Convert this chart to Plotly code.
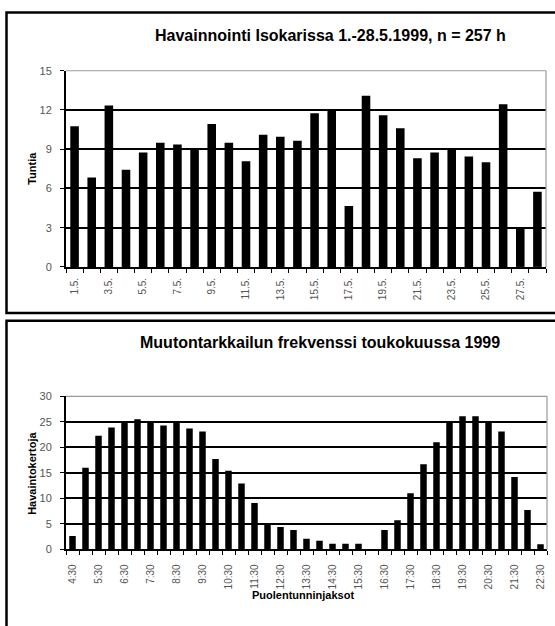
import plotly.graph_objects as go

# ---------------- data ----------------
days = ["1.5.", "2.5.", "3.5.", "4.5.", "5.5.", "6.5.", "7.5.", "8.5.", "9.5.", "10.5.",
        "11.5.", "12.5.", "13.5.", "14.5.", "15.5.", "16.5.", "17.5.", "18.5.", "19.5.", "20.5.",
        "21.5.", "22.5.", "23.5.", "24.5.", "25.5.", "26.5.", "27.5.", "28.5."]
hours = [10.75, 6.83, 12.35, 7.43, 8.75, 9.5, 9.35, 8.93, 10.93, 9.5,
         8.08, 10.1, 9.95, 9.65, 11.75, 12.05, 4.65, 13.08, 11.6, 10.6,
         8.3, 8.75, 9.05, 8.45, 8.0, 12.43, 3.0, 5.75]

periods = ["4:30", "5:00", "5:30", "6:00", "6:30", "7:00", "7:30", "8:00", "8:30", "9:00",
           "9:30", "10:00", "10:30", "11:00", "11:30", "12:00", "12:30", "13:00", "13:30", "14:00",
           "14:30", "15:00", "15:30", "16:00", "16:30", "17:00", "17:30", "18:00", "18:30", "19:00",
           "19:30", "20:00", "20:30", "21:00", "21:30", "22:00", "22:30"]
counts = [2.6, 16.0, 22.3, 23.9, 25.0, 25.5, 25.0, 24.3, 25.0, 23.7,
          23.1, 17.7, 15.4, 12.9, 9.1, 5.0, 4.4, 3.8, 2.1, 1.7,
          1.1, 1.1, 1.1, 0.0, 3.8, 5.7, 11.0, 16.7, 21.0, 25.0,
          26.1, 26.1, 25.0, 23.1, 14.2, 7.7, 1.0]

top_yticks = [0, 3, 6, 9, 12, 15]
bottom_yticks = [0, 5, 10, 15, 20, 25, 30]

title_top = "Havainnointi Isokarissa 1.-28.5.1999, n = 257 h"
title_bottom = "Muutontarkkailun frekvenssi toukokuussa 1999"
ytitle_top = "Tuntia"
ytitle_bottom = "Havaintokertoja"
xtitle_bottom = "Puolentunninjaksot"

# ---------------- figure ----------------
W, H = 555, 626
FONT = "Liberation Sans, Arial, sans-serif"
px = lambda v: v / W
py = lambda v: 1 - v / H

x_top = list(range(len(days)))
x_bot = list(range(len(periods)))

fig = go.Figure()
fig.add_trace(go.Bar(x=x_top, y=hours, marker=dict(color="black", line=dict(width=0)),
                     xaxis="x", yaxis="y", hoverinfo="skip"))
fig.add_trace(go.Bar(x=x_bot, y=counts, marker=dict(color="black", line=dict(width=0)),
                     xaxis="x2", yaxis="y2", hoverinfo="skip"))

tickfont = dict(family=FONT, size=10, color="#555555")
ytickfont = dict(family=FONT, size=11, color="#555555")

def xaxis_cfg(n, labels, domain, anchor, standoff):
    return dict(
        domain=domain, anchor=anchor, range=[-0.5, n - 0.5],
        tickmode="array", tickvals=list(range(0, n, 2)), ticktext=labels[::2],
        ticks="", tickangle=-90, tickfont=tickfont, ticklabelstandoff=standoff,
        showline=True, linecolor="black", linewidth=2,
        showgrid=False, zeroline=False, fixedrange=True,
        minor=dict(tickmode="array", tickvals=[i - 0.5 for i in range(n + 1)],
                   ticks="outside", ticklen=4, tickcolor="black", tickwidth=1, showgrid=False),
    )

def yaxis_cfg(ticks, domain, anchor):
    return dict(
        domain=domain, anchor=anchor, range=[ticks[0], ticks[-1]],
        tickmode="array", tickvals=ticks, ticks="outside", ticklen=4,
        tickcolor="black", tickwidth=1, tickfont=ytickfont, ticklabelstandoff=6,
        showline=True, linecolor="black", linewidth=2,
        showgrid=True, gridcolor="black", gridwidth=2, zeroline=False, fixedrange=True,
    )

fig.update_layout(
    width=W, height=H,
    margin=dict(l=0, r=0, t=0, b=0),
    paper_bgcolor="white", plot_bgcolor="white",
    showlegend=False, bargap=0.5,
    xaxis=xaxis_cfg(len(days), days, [px(66), px(546)], "y", 5),
    yaxis=yaxis_cfg(top_yticks, [py(266), py(66)], "x"),
    xaxis2=xaxis_cfg(len(periods), periods, [px(66), px(547)], "y2", 9),
    yaxis2=yaxis_cfg(bottom_yticks, [py(554), py(398)], "x2"),
)

shapes = []
# panel frames
shapes.append(dict(type="rect", xref="paper", yref="paper", x0=px(6.5), x1=1.05,
                   y0=py(313), y1=py(6.5), line=dict(color="black", width=2.5), layer="above"))
shapes.append(dict(type="rect", xref="paper", yref="paper", x0=px(6.5), x1=1.05,
                   y0=-0.05, y1=py(321), line=dict(color="black", width=2.5), layer="above"))
# grey plot-area border (top & right)
for xa, ya in (("x", "y"), ("x2", "y2")):
    shapes.append(dict(type="line", xref=f"{xa} domain", yref=f"{ya} domain",
                       x0=0.005, x1=1, y0=1, y1=1, line=dict(color="white", width=3), layer="above"))
    shapes.append(dict(type="line", xref=f"{xa} domain", yref=f"{ya} domain",
                       x0=0, x1=1, y0=1, y1=1, line=dict(color="#9a9a9a", width=1.2), layer="above"))
    shapes.append(dict(type="line", xref=f"{xa} domain", yref=f"{ya} domain",
                       x0=1, x1=1, y0=0, y1=1, line=dict(color="#9a9a9a", width=1.2), layer="above"))
fig.update_layout(shapes=shapes)

titlefont = dict(family=FONT, size=16, color="black")
axfont = dict(family=FONT, size=11, color="black")
ann = [
    dict(text=f"<b>{title_top}</b>", x=px(330), y=py(30), font=titlefont),
    dict(text=f"<b>{title_bottom}</b>", x=px(320), y=py(343), font=titlefont),
    dict(text=f"<b>{ytitle_top}</b>", x=px(32), y=py(166), font=axfont, textangle=-90),
    dict(text=f"<b>{ytitle_bottom}</b>", x=px(32), y=py(477), font=axfont, textangle=-90),
    dict(text=f"<b>{xtitle_bottom}</b>", x=px(303), y=py(601), font=axfont),
]
for a in ann:
    a.update(xref="paper", yref="paper", showarrow=False, xanchor="center", yanchor="middle")
fig.update_layout(annotations=ann)

fig.write_html(
    "out.html",
    config={"displayModeBar": False, "staticPlot": True},
    post_script="document.body.style.margin='0';document.body.style.overflow='hidden';",
)
